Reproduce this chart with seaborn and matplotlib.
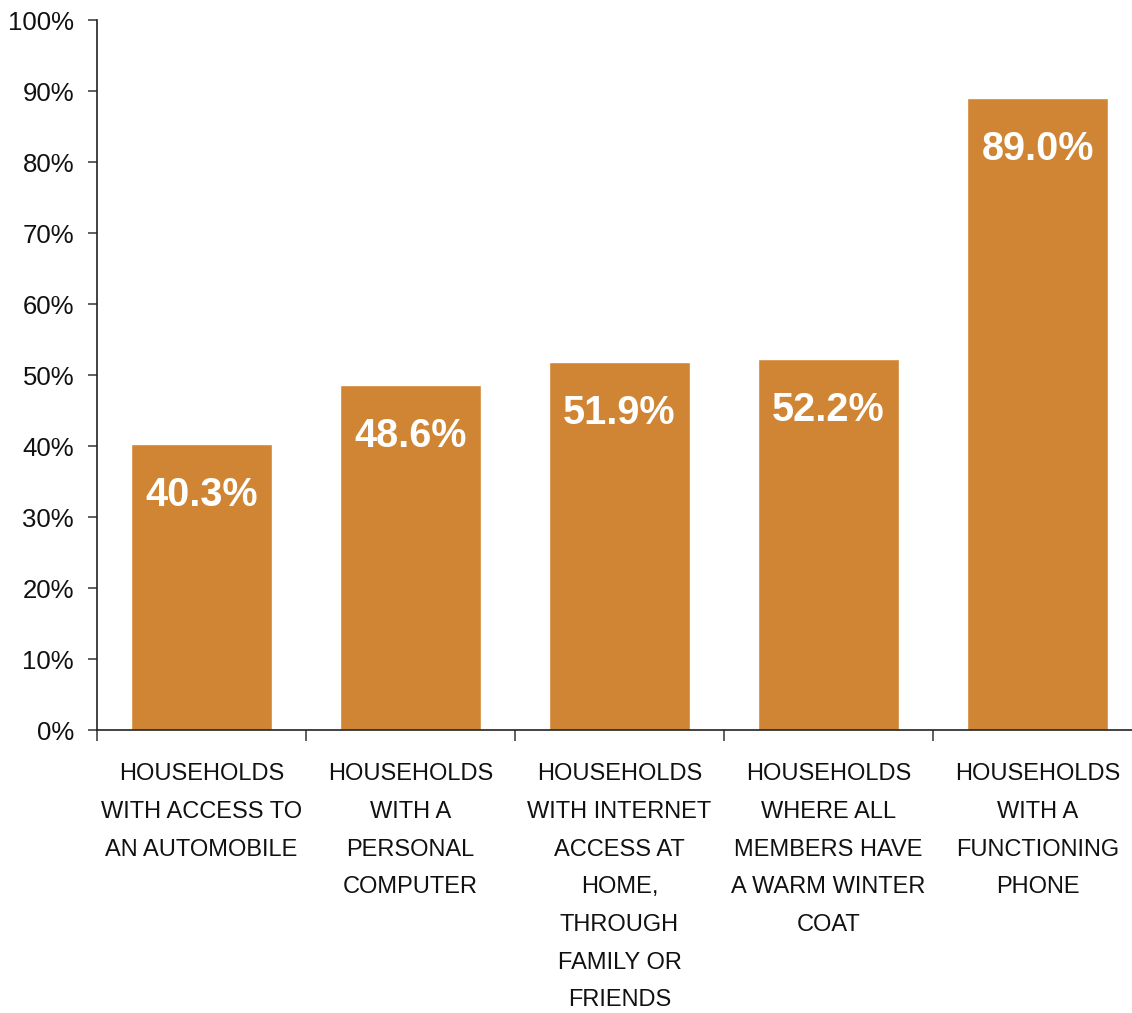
import matplotlib
matplotlib.use("Agg")
import matplotlib.pyplot as plt
from matplotlib.ticker import FixedLocator, PercentFormatter
import seaborn as sns
import pandas as pd

categories = [
    "HOUSEHOLDS\nWITH ACCESS TO\nAN AUTOMOBILE",
    "HOUSEHOLDS\nWITH A\nPERSONAL\nCOMPUTER",
    "HOUSEHOLDS\nWITH INTERNET\nACCESS AT\nHOME,\nTHROUGH\nFAMILY OR\nFRIENDS",
    "HOUSEHOLDS\nWHERE ALL\nMEMBERS HAVE\nA WARM WINTER\nCOAT",
    "HOUSEHOLDS\nWITH A\nFUNCTIONING\nPHONE",
]
values = [40.3, 48.6, 51.9, 52.2, 89.0]
value_labels = ["40.3%", "48.6%", "51.9%", "52.2%", "89.0%"]
y_ticks = [0, 10, 20, 30, 40, 50, 60, 70, 80, 90, 100]

sns.set_theme(style="white")
plt.rcParams["font.family"] = ["Liberation Sans", "DejaVu Sans"]

df = pd.DataFrame({"category": categories, "share": values})

fig = plt.figure(figsize=(11.32, 10.13), dpi=100)
ax = fig.add_axes([97 / 1132, 283 / 1013, 1045 / 1132, 710 / 1013])

bar_color = "#D08534"
sns.barplot(data=df, x="category", y="share", color=bar_color,
            saturation=1, width=0.67, ax=ax)

ax.set_ylim(0, 100)
ax.set_xlim(-0.5, len(categories) - 0.5)
ax.yaxis.set_major_locator(FixedLocator(y_ticks))
ax.yaxis.set_major_formatter(PercentFormatter(decimals=0))
ax.set_xlabel("")
ax.set_ylabel("")

for side in ("top", "right"):
    ax.spines[side].set_visible(False)
for side in ("left", "bottom"):
    ax.spines[side].set_color("#222222")
    ax.spines[side].set_linewidth(1.2)

ax.tick_params(axis="y", which="major", direction="out", length=6.5, width=1.2,
               color="#444444", labelsize=18.5, labelcolor="#111111", pad=10, left=True)
# category labels centred under each bar, separator ticks between categories
ax.tick_params(axis="x", which="major", length=0, labelsize=17,
               labelcolor="#111111", pad=24)
ax.set_xticks(range(len(categories)))
ax.set_xticklabels(categories, linespacing=1.92, va="top")
ax.set_xticks([i - 0.5 for i in range(len(categories) + 1)], minor=True)
ax.tick_params(axis="x", which="minor", direction="out", length=8, width=1.2,
               color="#444444", bottom=True)

for i, (v, lab) in enumerate(zip(values, value_labels)):
    ax.annotate(lab, xy=(i, v), xytext=(0, -51), textcoords="offset pixels",
                ha="center", va="center", color="white", fontsize=28.5,
                fontweight="bold")

fig.savefig("out.png", dpi=100)
